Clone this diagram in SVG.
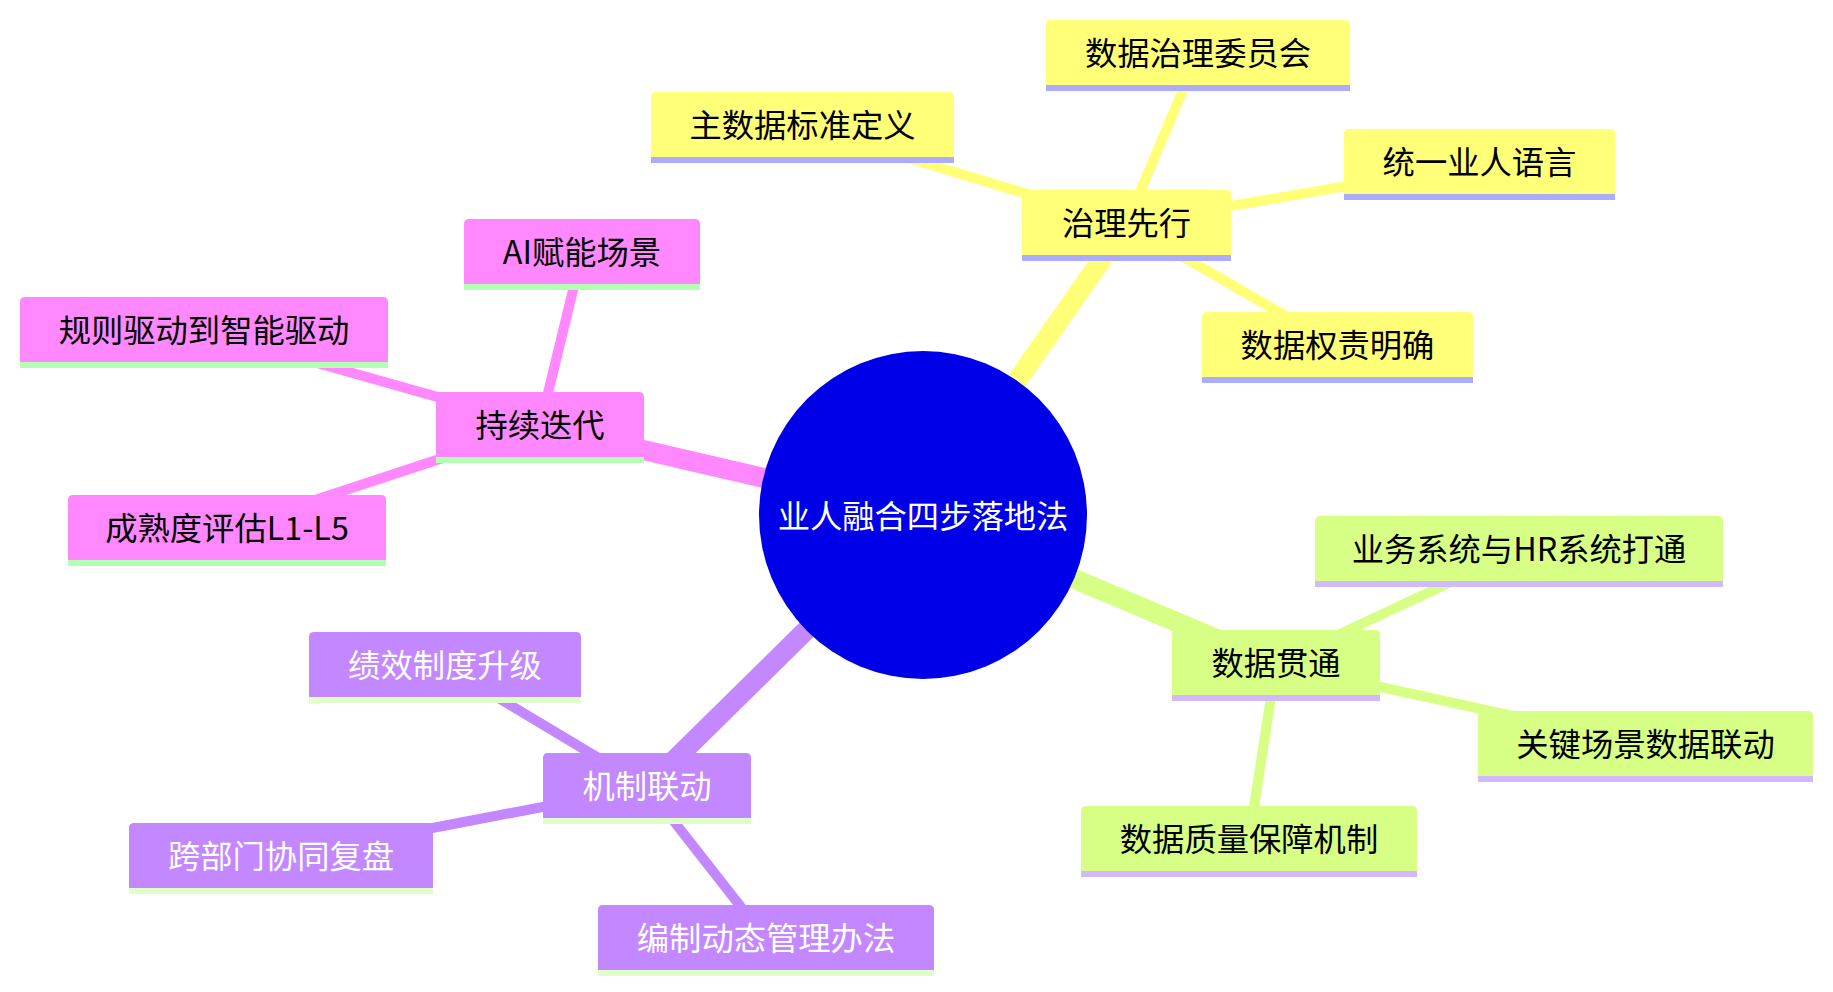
<svg xmlns="http://www.w3.org/2000/svg" width="1833" height="992" viewBox="0 0 1833 992">
<style>
text{font-family:"Noto Sans CJK SC","Noto Sans",sans-serif;font-size:32.3px;text-anchor:middle;dominant-baseline:central}
.e0{stroke-width:20;stroke-linecap:butt;fill:none}
.e1{stroke-width:10;stroke-linecap:butt;fill:none}
.s0 .f{fill:#ffff78}.s0 .u{fill:#acacff}.s0 text{fill:#000}
.s1 .f{fill:#d7ff86}.s1 .u{fill:#d1b8ff}.s1 text{fill:#000}
.s2 .f{fill:#c388ff}.s2 .u{fill:#e0ffc8}.s2 text{fill:#fff}
.s3 .f{fill:#ff88ff}.s3 .u{fill:#b5ffb5}.s3 text{fill:#000}
.c0{stroke:#ffff78}.c1{stroke:#d7ff86}.c2{stroke:#c388ff}.c3{stroke:#ff88ff}
</style>
<g id="connectors">
<line class="e0 c0" x1="923" y1="515" x2="1126.5" y2="224"/>
<line class="e0 c1" x1="923" y1="515" x2="1276" y2="664"/>
<line class="e0 c2" x1="923" y1="515" x2="647" y2="787"/>
<line class="e0 c3" x1="923" y1="515" x2="540" y2="426"/>
<line class="e1 c0" x1="1126.5" y1="224" x2="802.5" y2="126"/>
<line class="e1 c0" x1="1126.5" y1="224" x2="1198" y2="54"/>
<line class="e1 c0" x1="1126.5" y1="224" x2="1479.5" y2="163"/>
<line class="e1 c0" x1="1126.5" y1="224" x2="1337.5" y2="346"/>
<line class="e1 c1" x1="1276" y1="664" x2="1519" y2="550"/>
<line class="e1 c1" x1="1276" y1="664" x2="1645.5" y2="745"/>
<line class="e1 c1" x1="1276" y1="664" x2="1249" y2="840"/>
<line class="e1 c2" x1="647" y1="787" x2="445" y2="666"/>
<line class="e1 c2" x1="647" y1="787" x2="281" y2="857"/>
<line class="e1 c2" x1="647" y1="787" x2="766" y2="939"/>
<line class="e1 c3" x1="540" y1="426" x2="582" y2="253"/>
<line class="e1 c3" x1="540" y1="426" x2="204" y2="331"/>
<line class="e1 c3" x1="540" y1="426" x2="227" y2="529"/>
</g>
<g id="root">
<circle cx="923" cy="515" r="164" fill="#0000e8"/>
<text x="923" y="514" fill="#fff">业人融合四步落地法</text>
</g>
<g id="n-zhili" class="s0">
<path class="f" d="M1022 255V195Q1022 190 1027 190H1226Q1231 190 1231 195V255Z"/>
<rect class="u" x="1022" y="255" width="209" height="6"/>
<text x="1126.5" y="221">治理先行</text>
</g>
<g id="n-zhushuju" class="s0">
<path class="f" d="M651 157V97Q651 92 656 92H949Q954 92 954 97V157Z"/>
<rect class="u" x="651" y="157" width="303" height="6"/>
<text x="802.5" y="123">主数据标准定义</text>
</g>
<g id="n-weiyuanhui" class="s0">
<path class="f" d="M1046 85V25Q1046 20 1051 20H1345Q1350 20 1350 25V85Z"/>
<rect class="u" x="1046" y="85" width="304" height="6"/>
<text x="1198" y="51">数据治理委员会</text>
</g>
<g id="n-yuyan" class="s0">
<path class="f" d="M1344 194V134Q1344 129 1349 129H1610Q1615 129 1615 134V194Z"/>
<rect class="u" x="1344" y="194" width="271" height="6"/>
<text x="1479.5" y="160">统一业人语言</text>
</g>
<g id="n-quanze" class="s0">
<path class="f" d="M1202 377V317Q1202 312 1207 312H1468Q1473 312 1473 317V377Z"/>
<rect class="u" x="1202" y="377" width="271" height="6"/>
<text x="1337.5" y="343">数据权责明确</text>
</g>
<g id="n-guantong" class="s1">
<path class="f" d="M1172 695V635Q1172 630 1177 630H1375Q1380 630 1380 635V695Z"/>
<rect class="u" x="1172" y="695" width="208" height="6"/>
<text x="1276" y="661">数据贯通</text>
</g>
<g id="n-datong" class="s1">
<path class="f" d="M1315 581V521Q1315 516 1320 516H1718Q1723 516 1723 521V581Z"/>
<rect class="u" x="1315" y="581" width="408" height="6"/>
<text x="1519" y="547">业务系统与HR系统打通</text>
</g>
<g id="n-liandong" class="s1">
<path class="f" d="M1478 776V716Q1478 711 1483 711H1808Q1813 711 1813 716V776Z"/>
<rect class="u" x="1478" y="776" width="335" height="6"/>
<text x="1645.5" y="742">关键场景数据联动</text>
</g>
<g id="n-zhiliang" class="s1">
<path class="f" d="M1081 871V811Q1081 806 1086 806H1412Q1417 806 1417 811V871Z"/>
<rect class="u" x="1081" y="871" width="336" height="6"/>
<text x="1249" y="837">数据质量保障机制</text>
</g>
<g id="n-jizhi" class="s2">
<path class="f" d="M543 818V758Q543 753 548 753H746Q751 753 751 758V818Z"/>
<rect class="u" x="543" y="818" width="208" height="6"/>
<text x="647" y="784">机制联动</text>
</g>
<g id="n-jixiao" class="s2">
<path class="f" d="M309 697V637Q309 632 314 632H576Q581 632 581 637V697Z"/>
<rect class="u" x="309" y="697" width="272" height="6"/>
<text x="445" y="663">绩效制度升级</text>
</g>
<g id="n-fupan" class="s2">
<path class="f" d="M129 888V828Q129 823 134 823H428Q433 823 433 828V888Z"/>
<rect class="u" x="129" y="888" width="304" height="6"/>
<text x="281" y="854">跨部门协同复盘</text>
</g>
<g id="n-bianzhi" class="s2">
<path class="f" d="M598 970V910Q598 905 603 905H929Q934 905 934 910V970Z"/>
<rect class="u" x="598" y="970" width="336" height="6"/>
<text x="766" y="936">编制动态管理办法</text>
</g>
<g id="n-diedai" class="s3">
<path class="f" d="M436 457V397Q436 392 441 392H639Q644 392 644 397V457Z"/>
<rect class="u" x="436" y="457" width="208" height="6"/>
<text x="540" y="423">持续迭代</text>
</g>
<g id="n-ai" class="s3">
<path class="f" d="M464 284V224Q464 219 469 219H695Q700 219 700 224V284Z"/>
<rect class="u" x="464" y="284" width="236" height="6"/>
<text x="582" y="250">AI赋能场景</text>
</g>
<g id="n-guize" class="s3">
<path class="f" d="M20 362V302Q20 297 25 297H383Q388 297 388 302V362Z"/>
<rect class="u" x="20" y="362" width="368" height="6"/>
<text x="204" y="328">规则驱动到智能驱动</text>
</g>
<g id="n-chengshu" class="s3">
<path class="f" d="M68 560V500Q68 495 73 495H381Q386 495 386 500V560Z"/>
<rect class="u" x="68" y="560" width="318" height="6"/>
<text x="227" y="526">成熟度评估L1-L5</text>
</g>
</svg>
